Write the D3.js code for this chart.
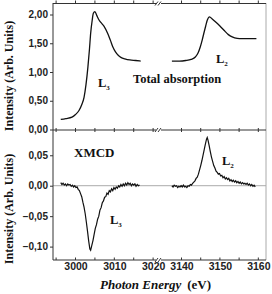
<!DOCTYPE html>
<html>
<head>
<meta charset="utf-8">
<script src="https://cdn.jsdelivr.net/npm/d3@7"></script>
<style>
  body { margin: 0; background: #fff; }
  svg { display: block; }
  .tick text { font-family: "Liberation Sans", Arial, sans-serif; font-weight: bold; font-size: 10px; fill: #222; }
  .xax .tick text { font-size: 10.5px; }
  .lbl { font-family: "Liberation Serif", "Times New Roman", serif; font-weight: bold; fill: #111; }
</style>
</head>
<body>
<div id="chart"></div>
<script>
// total absorption, L3 edge [eV, intensity]
const absL3 = [
  [2996.2,0.175],[2997.5,0.19],[2999.1,0.215],[3000.0,0.26],[3000.9,0.33],[3001.6,0.43],
  [3002.2,0.56],[3002.7,0.78],[3003.2,1.09],[3003.6,1.40],[3003.9,1.67],[3004.3,1.90],
  [3004.6,2.02],[3005.0,2.05],[3005.5,1.98],[3006.1,1.90],[3006.8,1.84],[3007.4,1.79],
  [3008.3,1.67],[3009.0,1.55],[3009.6,1.44],[3010.3,1.35],[3011.0,1.29],[3011.8,1.25],
  [3012.7,1.23],[3014.0,1.21],[3015.5,1.20],[3016.8,1.19]
];
// total absorption, L2 edge
const absL2 = [
  [3137.5,1.19],[3139.5,1.19],[3141.1,1.20],[3142.5,1.22],[3143.6,1.26],[3144.3,1.33],
  [3144.9,1.44],[3145.4,1.56],[3145.8,1.67],[3146.3,1.80],[3146.7,1.90],[3147.3,1.96],
  [3148.0,1.92],[3148.9,1.87],[3150.0,1.80],[3151.0,1.73],[3152.2,1.65],[3153.2,1.61],
  [3154.5,1.585],[3155.7,1.58],[3157.5,1.58],[3159.5,1.58]
];
// XMCD, L3 edge
const xmcdL3 = [
  [2996.2,0.005],[2996.5,0.002],[2996.8,0.004],[2997.1,0.001],[2997.4,0.003],[2997.7,0.000],
  [2998.0,0.003],[2998.3,0.001],[2998.6,0.002],[2998.9,-0.001],[2999.2,0.001],[2999.5,-0.002],
  [2999.8,0.000],[3000.1,-0.003],[3000.4,-0.002],[3000.7,-0.006],[3001.0,-0.008],[3001.3,-0.013],
  [3001.6,-0.018],[3001.9,-0.027],[3002.2,-0.035],[3002.5,-0.046],[3002.8,-0.060],[3003.1,-0.075],
  [3003.4,-0.091],[3003.7,-0.104],[3003.9,-0.106],[3004.2,-0.098],[3004.5,-0.090],[3004.8,-0.080],
  [3005.1,-0.070],[3005.4,-0.064],[3005.7,-0.055],[3006.0,-0.050],[3006.3,-0.040],[3006.6,-0.036],
  [3006.9,-0.028],[3007.2,-0.025],[3007.5,-0.019],[3007.8,-0.018],[3008.1,-0.012],[3008.4,-0.014],
  [3008.7,-0.008],[3009.0,-0.010],[3009.3,-0.005],[3009.6,-0.008],[3009.9,-0.003],[3010.2,-0.006],
  [3010.5,-0.002],[3010.8,-0.004],[3011.1,0.000],[3011.4,-0.002],[3011.7,0.002],[3012.0,-0.001],
  [3012.3,0.003],[3012.6,0.000],[3012.9,0.004],[3013.2,0.001],[3013.5,0.005],[3013.8,0.002],
  [3014.1,0.004],[3014.4,0.000],[3014.7,0.003],[3015.0,0.001],[3015.3,0.003],[3015.6,-0.001],
  [3015.9,0.002],[3016.2,0.000],[3016.5,0.001]
];
// XMCD, L2 edge
const xmcdL2 = [
  [3137.5,0.000],[3137.8,-0.002],[3138.1,0.001],[3138.4,-0.001],[3138.7,0.000],[3139.0,-0.003],
  [3139.3,-0.001],[3139.6,-0.002],[3139.9,0.000],[3140.2,-0.002],[3140.5,0.001],[3140.8,-0.002],
  [3141.1,-0.001],[3141.4,-0.003],[3141.7,0.000],[3142.0,-0.001],[3142.3,0.002],[3142.6,0.001],
  [3142.9,0.004],[3143.2,0.006],[3143.5,0.008],[3143.8,0.012],[3144.1,0.014],[3144.4,0.019],
  [3144.7,0.026],[3145.0,0.033],[3145.3,0.041],[3145.6,0.050],[3145.9,0.059],[3146.2,0.068],
  [3146.5,0.076],[3146.7,0.079],[3146.9,0.075],[3147.2,0.066],[3147.5,0.056],[3147.8,0.047],
  [3148.1,0.040],[3148.4,0.033],[3148.7,0.029],[3149.0,0.024],[3149.3,0.022],[3149.6,0.019],
  [3149.9,0.020],[3150.2,0.016],[3150.5,0.017],[3150.8,0.013],[3151.1,0.015],[3151.4,0.011],
  [3151.7,0.013],[3152.0,0.010],[3152.3,0.012],[3152.6,0.008],[3152.9,0.010],[3153.2,0.007],
  [3153.5,0.009],[3153.8,0.006],[3154.1,0.008],[3154.4,0.005],[3154.7,0.007],[3155.0,0.004],
  [3155.3,0.006],[3155.6,0.003],[3155.9,0.005],[3156.2,0.003],[3156.5,0.004],[3156.8,0.002],
  [3157.1,0.004],[3157.4,0.001],[3157.7,0.003],[3158.0,0.000],[3158.3,0.002],[3158.6,-0.001],
  [3158.9,0.001],[3159.2,-0.002]
];

const xTicksL = [3000, 3010, 3020],
      xTicksR = [3140, 3150, 3160];
const yTicksTop = [0, 0.5, 1, 1.5, 2],
      yTicksBot = [-0.10, -0.05, 0, 0.05];

const width = 272, height = 294;
const pLeft = 53, pRight = 266, pTop = 3, pMid = 130, pBottom = 260;

const xL = d3.scaleLinear().domain([2994.2, 3021]).range([pLeft, 157]),
      xR = d3.scaleLinear().domain([3134.4, 3162]).range([160, pRight]);
const xPos = e => e < 3100 ? xL(e) : xR(e);

const yTop = d3.scaleLinear().domain([0, 2.2]).range([129.5, pTop]),
      yBot = d3.scaleLinear().domain([-0.122, 0.0915]).range([pBottom, pMid]);

const loc = d3.formatLocale({decimal: ",", thousands: ".", grouping: [3], currency: ["", ""]});
const fmt = loc.format(".2f");

const svg = d3.select('#chart').append('svg').attr('width', width).attr('height', height);

// right border
svg.append('line').attr('x1', pRight).attr('x2', pRight).attr('y1', pTop).attr('y2', pBottom)
  .attr('stroke', '#aaa').attr('stroke-width', 1);

// zero line in XMCD panel
svg.append('line').attr('x1', pLeft).attr('x2', pRight)
  .attr('y1', yBot(0)).attr('y2', yBot(0)).attr('stroke', '#aaa').attr('stroke-width', 1);

// horizontal axis lines with break
function hLine(y, tickUp, tickDown){
  const g = svg.append('g').attr('stroke', '#333').attr('stroke-width', 1);
  g.append('line').attr('x1', pLeft).attr('x2', 156).attr('y1', y).attr('y2', y);
  g.append('line').attr('x1', 161).attr('x2', pRight).attr('y1', y).attr('y2', y);
  [155, 158].forEach(b => g.append('line')
    .attr('x1', b).attr('x2', b + 3).attr('y1', y + 2).attr('y2', y - 2));
  const minor = [2995, 3000, 3005, 3010, 3015, 3020].map(xL)
    .concat([3140, 3145, 3150, 3155, 3160].map(xR));
  g.selectAll(null).data(minor).join('line')
    .attr('x1', d => d).attr('x2', d => d)
    .attr('y1', y - tickUp).attr('y2', y + tickDown);
}
hLine(pTop + 0.5, 3, 0);
hLine(pMid, 2, 2);
hLine(pBottom, 2.5, 0);

// bottom tick labels
const axL = d3.axisBottom(xL).tickValues(xTicksL).tickSize(0).tickPadding(3).tickFormat(d3.format('d'));
const axR = d3.axisBottom(xR).tickValues(xTicksR).tickSize(0).tickPadding(3).tickFormat(d3.format('d'));
[axL, axR].forEach(ax => {
  const g = svg.append('g').attr('class', 'xax').attr('transform', `translate(0,${pBottom})`).call(ax);
  g.select('.domain').remove();
});

// y axes
const gyT = svg.append('g').attr('transform', `translate(${pLeft},0)`)
  .call(d3.axisLeft(yTop).tickValues(yTicksTop).tickSize(3).tickPadding(2).tickFormat(fmt));
gyT.select('.domain').attr('d', `M0,${pTop}V${pMid}`);
const gyB = svg.append('g').attr('transform', `translate(${pLeft},0)`)
  .call(d3.axisLeft(yBot).tickValues(yTicksBot).tickSize(3).tickPadding(2).tickFormat(fmt));
gyB.select('.domain').attr('d', `M0,${pMid}V${pBottom}`);
svg.selectAll('.domain, .tick line').attr('stroke', '#333');

// curves
const lineTop = d3.line().x(d => xPos(d[0])).y(d => yTop(d[1])).curve(d3.curveMonotoneX);
const lineBot = d3.line().x(d => xPos(d[0])).y(d => yBot(d[1]));
[absL3, absL2].forEach(s => svg.append('path').datum(s).attr('d', lineTop)
  .attr('fill', 'none').attr('stroke', '#111').attr('stroke-width', 1.3));
[xmcdL3, xmcdL2].forEach(s => svg.append('path').datum(s).attr('d', lineBot)
  .attr('fill', 'none').attr('stroke', '#111').attr('stroke-width', 1.2));

// labels
function edge(px, py, sub){
  const t = svg.append('text').attr('class', 'lbl').attr('x', px).attr('y', py).attr('font-size', 12.5);
  t.append('tspan').text('L');
  t.append('tspan').attr('font-size', 7).attr('dy', 2.5).text(sub);
}
edge(98, 87, '3');
edge(216, 63, '2');
edge(110, 224, '3');
edge(222, 165, '2');

svg.append('text').attr('class', 'lbl').attr('x', 133).attr('y', 83)
  .attr('font-size', 12.5).text('Total absorption');
svg.append('text').attr('class', 'lbl').attr('x', 74).attr('y', 157)
  .attr('font-size', 13).text('XMCD');

[76, 209].forEach(cy => {
  svg.append('text').attr('class', 'lbl').attr('font-size', 12)
    .attr('text-anchor', 'middle')
    .attr('transform', `translate(12.5,${cy}) rotate(-90)`)
    .text('Intensity (Arb. Units)');
});

const xt = svg.append('text').attr('class', 'lbl').attr('x', 100).attr('y', 289).attr('font-size', 13);
xt.append('tspan').attr('font-style', 'italic').text('Photon Energy');
xt.append('tspan').attr('dx', 6).text('(eV)');
</script>
</body>
</html>
